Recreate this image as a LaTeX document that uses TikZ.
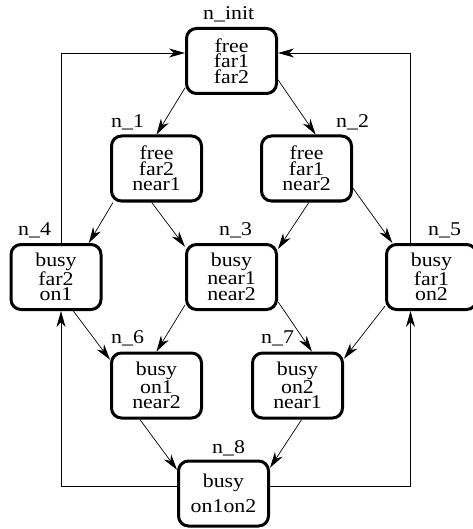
\documentclass[tikz,border=0pt]{standalone}
\usepackage{fontspec}
\setmainfont[FakeStretch=1.12]{Liberation Serif}
\usetikzlibrary{arrows.meta}
\tikzset{
  state/.style={draw, line width=3pt, rounded corners=10pt, minimum width=90pt,
    minimum height=65pt, inner sep=0pt, align=center, font=\fontsize{19.5}{15.5}\selectfont},
  tag/.style={anchor=base west, inner sep=0pt, font=\fontsize{19.5}{15.5}\selectfont},
  flow/.style={-{Stealth[length=16pt,width=9pt,inset=5pt]}, line width=0.7pt},
}

\begin{document}
\begin{tikzpicture}[x=1pt,y=-1pt]
    \useasboundingbox (0,0) rectangle (472,529);
    \node[state] (ninit) at (231.5,61) {free\\far1\\far2};
    \node[state] (n1) at (156.5,168.5) {free\\far2\\near1};
    \node[state] (n2) at (306.5,168.5) {free\\far1\\near2};
    \node[state] (n4) at (56,277) {busy\\far2\\on1};
    \node[state] (n3) at (231.5,277) {busy\\near1\\near2};
    \node[state] (n5) at (431.5,277) {busy\\far1\\on2};
    \node[state] (n6) at (156.5,385.5) {busy\\on1\\near2};
    \node[state] (n7) at (297.5,385.5) {busy\\on2\\near1};
    \node[state] (n8) at (223.5,493.5) {busy\\[6.5pt]on1on2};
    \node[tag] (tinit) at (203,20) {n\_init};
    \node[tag] (t1) at (111,128) {n\_1};
    \node[tag] (t2) at (336,128) {n\_2};
    \node[tag] (t4) at (18,235) {n\_4};
    \node[tag] (t3) at (219,235) {n\_3};
    \node[tag] (t5) at (428,235) {n\_5};
    \node[tag] (t6) at (111,343) {n\_6};
    \node[tag] (t7) at (261,343) {n\_7};
    \node[tag] (t8) at (212,453) {n\_8};
    \draw[flow] (ninit.210) -- (n1.north);
    \draw[flow] (ninit.338) -- (n2.75);
    \draw[flow] (n1.218) -- (n4.46);
    \draw[flow] (n1.262) -- (n3.147);
    \draw[flow] (n2.274) -- (n3.31);
    \draw[flow] (n2.337) -- (n5.139);
    \draw[flow] (n4.297) -- (n6.151);
    \draw[flow] (n3.211) -- (n6.north);
    \draw[flow] (n3.332) -- (n7.67);
    \draw[flow] (n5.212) -- (n7.30);
    \draw[flow] (n6.244) -- (n8.153);
    \draw[flow] (n7.277) -- (n8.29);
    \draw[flow] ([xshift=5pt]n4.north) |- ([yshift=8pt]ninit.west);
    \draw[flow] ([xshift=-21pt]n5.north) |- ([yshift=8pt]ninit.east);
    \draw[flow] ([yshift=7.5pt]n8.west) -| ([xshift=5pt]n4.south);
    \draw[flow] ([yshift=7.5pt]n8.east) -| ([xshift=-21pt]n5.south);
\end{tikzpicture}
\end{document}
